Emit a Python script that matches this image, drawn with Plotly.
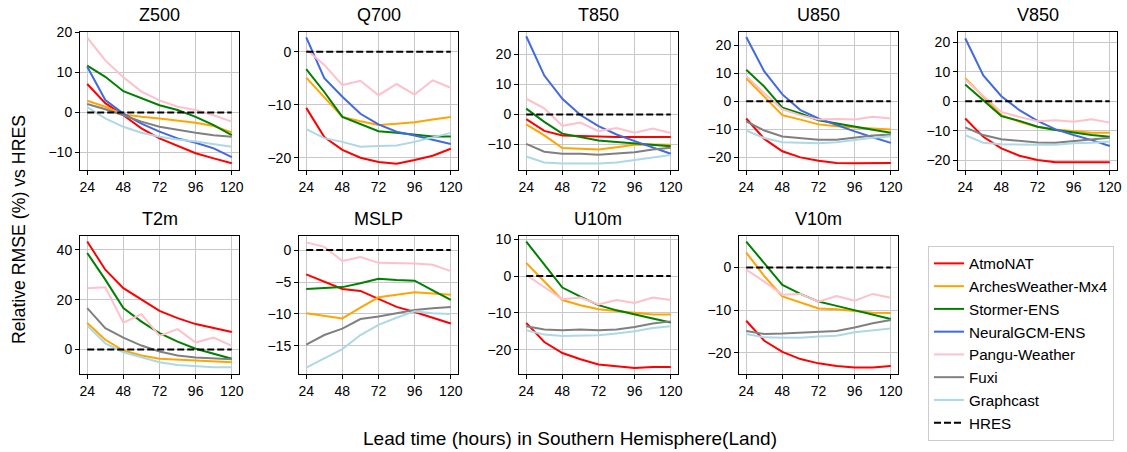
import plotly.graph_objects as go

W, H = 1127, 452
lead_times = [24, 36, 48, 60, 72, 84, 96, 108, 120]
x_ticks = [24, 48, 72, 96, 120]

models = ["AtmoNAT", "ArchesWeather-Mx4", "Stormer-ENS", "NeuralGCM-ENS",
          "Pangu-Weather", "Fuxi", "Graphcast"]
colors = {"AtmoNAT": "#ff0000", "ArchesWeather-Mx4": "#ffa500", "Stormer-ENS": "#008000",
          "NeuralGCM-ENS": "#4169e1", "Pangu-Weather": "#ffc0cb", "Fuxi": "#808080",
          "Graphcast": "#add8e6"}

variables = ["Z500", "Q700", "T850", "U850", "V850", "T2m", "MSLP", "U10m", "V10m"]

# Relative RMSE (%) vs HRES, one list per model, per variable
z500 = {
    "AtmoNAT": [7.1, 2.3, -0.7, -4.0, -6.5, -8.4, -10.2, -11.5, -12.7],
    "ArchesWeather-Mx4": [2.9, 1.4, -0.5, -1.1, -1.5, -2.1, -2.6, -3.4, -5.0],
    "Stormer-ENS": [11.7, 8.9, 5.3, 3.5, 1.8, 0.6, -1.1, -3.2, -5.7],
    "NeuralGCM-ENS": [11.4, 3.1, -0.3, -2.8, -4.8, -6.5, -7.6, -9.0, -11.2],
    "Pangu-Weather": [18.7, 13.0, 8.8, 5.2, 3.0, 1.4, 0.6, -0.7, -2.3],
    "Fuxi": [2.1, 0.8, -0.7, -2.3, -3.6, -4.4, -5.1, -5.7, -6.1],
    "Graphcast": [1.3, -1.5, -3.6, -5.1, -6.1, -6.8, -7.3, -7.9, -8.6],
}
q700 = {
    "AtmoNAT": [-10.6, -16.1, -18.5, -20.0, -20.8, -21.1, -20.4, -19.6, -18.3],
    "ArchesWeather-Mx4": [-4.9, -8.5, -12.3, -13.1, -13.8, -13.6, -13.3, -12.8, -12.3],
    "Stormer-ENS": [-3.3, -7.6, -12.3, -13.6, -15.0, -15.3, -15.6, -16.0, -16.0],
    "NeuralGCM-ENS": [2.7, -5.0, -8.5, -11.7, -13.7, -15.1, -15.8, -16.6, -17.4],
    "Pangu-Weather": [0.4, -2.5, -6.3, -5.5, -8.2, -6.1, -8.1, -5.4, -6.8],
    "Fuxi": [None] * 9,
    "Graphcast": [-14.6, -16.3, -17.0, -17.9, -17.8, -17.7, -17.0, -16.2, -15.3],
}
t850 = {
    "AtmoNAT": [-1.6, -5.5, -7.0, -7.2, -7.5, -7.5, -7.5, -7.5, -7.5],
    "ArchesWeather-Mx4": [-3.3, -7.0, -11.2, -11.5, -11.7, -10.9, -10.1, -10.0, -10.1],
    "Stormer-ENS": [1.9, -2.5, -6.4, -7.5, -8.7, -9.2, -9.6, -10.1, -10.6],
    "NeuralGCM-ENS": [26.0, 12.9, 5.2, -0.2, -3.9, -6.7, -8.9, -10.9, -13.1],
    "Pangu-Weather": [5.2, 2.0, -3.8, -2.7, -5.6, -4.5, -6.1, -4.7, -6.2],
    "Fuxi": [-9.8, -12.4, -13.1, -13.1, -13.4, -13.1, -12.6, -11.7, -11.1],
    "Graphcast": [-14.0, -16.0, -16.3, -16.3, -16.3, -16.0, -15.2, -14.3, -13.5],
}
u850 = {
    "AtmoNAT": [-6.2, -13.5, -17.9, -20.1, -21.3, -22.1, -22.2, -22.2, -22.1],
    "ArchesWeather-Mx4": [8.2, 1.6, -5.0, -6.6, -8.3, -9.0, -9.5, -9.8, -10.1],
    "Stormer-ENS": [11.2, 5.2, -2.3, -4.4, -6.8, -8.0, -9.0, -10.2, -11.3],
    "NeuralGCM-ENS": [22.9, 10.6, 2.4, -3.2, -6.2, -8.6, -10.8, -12.9, -14.9],
    "Pangu-Weather": [9.0, 2.8, -2.9, -5.0, -6.6, -6.4, -6.6, -5.6, -6.2],
    "Fuxi": [-7.2, -10.5, -12.6, -13.2, -13.8, -13.8, -13.1, -12.3, -11.9],
    "Graphcast": [-10.5, -13.2, -14.7, -14.9, -15.0, -14.7, -13.8, -13.1, -12.6],
}
v850 = {
    "AtmoNAT": [-5.8, -12.0, -15.9, -18.4, -19.8, -20.6, -20.6, -20.6, -20.6],
    "ArchesWeather-Mx4": [7.8, 1.5, -4.7, -6.9, -8.6, -9.5, -10.1, -10.6, -10.6],
    "Stormer-ENS": [5.7, 0.3, -5.0, -6.6, -8.6, -9.7, -10.6, -11.4, -12.0],
    "NeuralGCM-ENS": [21.3, 8.7, 1.7, -3.0, -6.6, -9.5, -11.4, -13.1, -15.1],
    "Pangu-Weather": [7.3, 1.7, -3.6, -5.3, -6.7, -6.4, -6.9, -6.1, -7.2],
    "Fuxi": [-8.8, -11.4, -12.8, -13.4, -13.9, -14.0, -13.4, -12.8, -12.3],
    "Graphcast": [-11.4, -14.0, -14.5, -14.7, -14.7, -14.7, -14.2, -14.0, -13.6],
}
t2m = {
    "AtmoNAT": [43.3, 32.0, 24.6, 19.9, 15.5, 12.6, 10.2, 8.6, 7.0],
    "ArchesWeather-Mx4": [10.6, 3.9, -0.4, -2.4, -3.7, -4.1, -4.5, -4.8, -5.1],
    "Stormer-ENS": [38.7, 28.0, 16.6, 11.2, 6.6, 3.2, 0.3, -1.7, -3.7],
    "NeuralGCM-ENS": [None] * 9,
    "Pangu-Weather": [24.6, 25.0, 10.8, 14.2, 5.5, 8.2, 2.8, 4.8, 1.5],
    "Fuxi": [16.6, 8.6, 4.8, 1.6, -0.8, -2.4, -3.2, -3.7, -3.9],
    "Graphcast": [9.6, 2.5, -1.1, -3.2, -5.1, -6.2, -6.8, -7.1, -7.1],
}
mslp = {
    "AtmoNAT": [-3.8, -5.0, -6.1, -6.4, -7.7, -8.9, -9.7, -10.6, -11.5],
    "ArchesWeather-Mx4": [-9.9, -10.3, -10.7, -9.0, -7.4, -7.0, -6.6, -6.8, -7.0],
    "Stormer-ENS": [-6.1, -6.0, -5.8, -5.2, -4.5, -4.7, -4.8, -6.3, -7.8],
    "NeuralGCM-ENS": [None] * 9,
    "Pangu-Weather": [1.2, 0.5, -1.7, -1.1, -2.0, -2.0, -2.1, -2.3, -3.3],
    "Fuxi": [-14.8, -13.3, -12.3, -10.8, -10.4, -9.9, -9.4, -9.1, -8.9],
    "Graphcast": [-18.4, -16.9, -15.5, -13.3, -11.7, -10.6, -9.6, -9.9, -10.0],
}
u10m = {
    "AtmoNAT": [-12.7, -17.9, -20.9, -22.6, -24.0, -24.5, -25.0, -24.7, -24.7],
    "ArchesWeather-Mx4": [3.6, -1.5, -6.5, -7.9, -9.0, -9.5, -10.0, -10.4, -10.4],
    "Stormer-ENS": [9.4, 3.0, -3.1, -5.6, -7.9, -9.3, -10.5, -11.5, -12.6],
    "NeuralGCM-ENS": [None] * 9,
    "Pangu-Weather": [0.3, -2.9, -6.3, -5.8, -7.7, -6.5, -7.3, -5.8, -6.5],
    "Fuxi": [-13.6, -14.5, -14.7, -14.5, -14.7, -14.5, -13.8, -12.9, -12.3],
    "Graphcast": [-14.7, -15.9, -16.3, -16.1, -16.1, -15.6, -15.0, -14.1, -13.6],
}
v10m = {
    "AtmoNAT": [-12.5, -17.2, -19.8, -21.5, -22.5, -23.1, -23.5, -23.5, -23.1],
    "ArchesWeather-Mx4": [3.5, -2.0, -6.8, -8.2, -9.6, -9.8, -10.2, -10.6, -10.7],
    "Stormer-ENS": [6.1, 1.0, -4.1, -6.2, -8.0, -9.0, -10.0, -11.0, -12.1],
    "NeuralGCM-ENS": [None] * 9,
    "Pangu-Weather": [-0.5, -3.3, -6.4, -6.2, -8.0, -6.7, -7.8, -6.2, -7.1],
    "Fuxi": [-14.9, -15.6, -15.5, -15.3, -15.1, -14.9, -14.1, -13.1, -12.3],
    "Graphcast": [-15.6, -16.4, -16.5, -16.5, -16.2, -16.0, -15.2, -14.7, -14.3],
}
hres = [0.0] * 9

data = [z500, q700, t850, u850, v850, t2m, mslp, u10m, v10m]
y_ranges = [[-14.4, 20.1], [-22.3, 3.7], [-18.5, 27.4], [-24.6, 24.7], [-23.2, 23.4],
            [-9.8, 45.5], [-19.4, 2.2], [-26.6, 10.9], [-25.0, 7.4]]
y_dticks = [10, 10, 10, 10, 10, 20, 5, 10, 10]

FONT = "Liberation Sans, Arial, sans-serif"

# panel pixel boxes (left, right, top, bottom)
col_left = [80, 299, 519, 739, 958]
panel_w = 159
rows = [(32, 170), (236, 374)]
boxes = []
for i in range(9):
    r, c = divmod(i, 5)
    l = col_left[c]
    t, b = rows[r]
    boxes.append((l, l + panel_w, t, b))

fig = go.Figure()
layout = {}
annotations = []
for i, (var, d) in enumerate(zip(variables, data)):
    n = "" if i == 0 else str(i + 1)
    l, rgt, t, b = boxes[i]
    for m in models:
        fig.add_trace(go.Scatter(
            x=lead_times, y=d[m], mode="lines", name=m,
            line=dict(color=colors[m], width=2),
            legendgroup=m, showlegend=(i == 0),
            xaxis="x" + n, yaxis="y" + n,
        ))
    fig.add_trace(go.Scatter(
        x=lead_times, y=hres, mode="lines", name="HRES",
        line=dict(color="black", width=2, dash="7px,3px"),
        legendgroup="HRES", showlegend=(i == 0),
        xaxis="x" + n, yaxis="y" + n,
    ))
    common = dict(showline=True, mirror=True, linecolor="black", linewidth=1,
                  ticks="outside", ticklen=4, tickcolor="black",
                  showgrid=True, gridcolor="#c8c8c8", gridwidth=1, zeroline=False,
                  automargin=False,
                  tickfont=dict(size=14, color="black", family=FONT))
    layout["xaxis" + n] = dict(domain=[l / W, rgt / W], anchor="y" + n,
                               range=[19.2, 124.8], tickmode="array", tickvals=x_ticks,
                               **common)
    layout["yaxis" + n] = dict(domain=[1 - b / H, 1 - t / H], anchor="x" + n,
                               range=y_ranges[i], dtick=y_dticks[i], tick0=0, **common)
    annotations.append(dict(text=var, x=(l + rgt) / 2 / W, y=1 - (t - 5) / H,
                            xref="paper", yref="paper", xanchor="center", yanchor="bottom",
                            showarrow=False, font=dict(size=18, color="black", family=FONT)))

annotations.append(dict(text="Lead time (hours) in Southern Hemisphere(Land)",
                        x=570 / W, y=1 - 438 / H, xref="paper", yref="paper",
                        xanchor="center", yanchor="middle", showarrow=False,
                        font=dict(size=19, color="black", family=FONT)))
annotations.append(dict(text="Relative RMSE (%) vs HRES", textangle=-90,
                        x=19 / W, y=1 - 230 / H, xref="paper", yref="paper",
                        xanchor="center", yanchor="middle", showarrow=False,
                        font=dict(size=17.7, color="black", family=FONT)))

fig.update_layout(
    width=W, height=H,
    margin=dict(l=0, r=0, t=0, b=0, autoexpand=False),
    paper_bgcolor="white", plot_bgcolor="white",
    font=dict(family=FONT, color="black"),
    annotations=annotations,
    legend=dict(x=928 / W, y=1 - 246 / H, xanchor="left", yanchor="top",
                bgcolor="white", bordercolor="#cccccc", borderwidth=1,
                font=dict(size=15.2, family=FONT, color="black"),
                tracegroupgap=0),
    **layout,
)

fig.write_html("out.html", config={"displayModeBar": False},
               post_script="document.body.style.margin='0px';document.body.style.overflow='hidden';")
